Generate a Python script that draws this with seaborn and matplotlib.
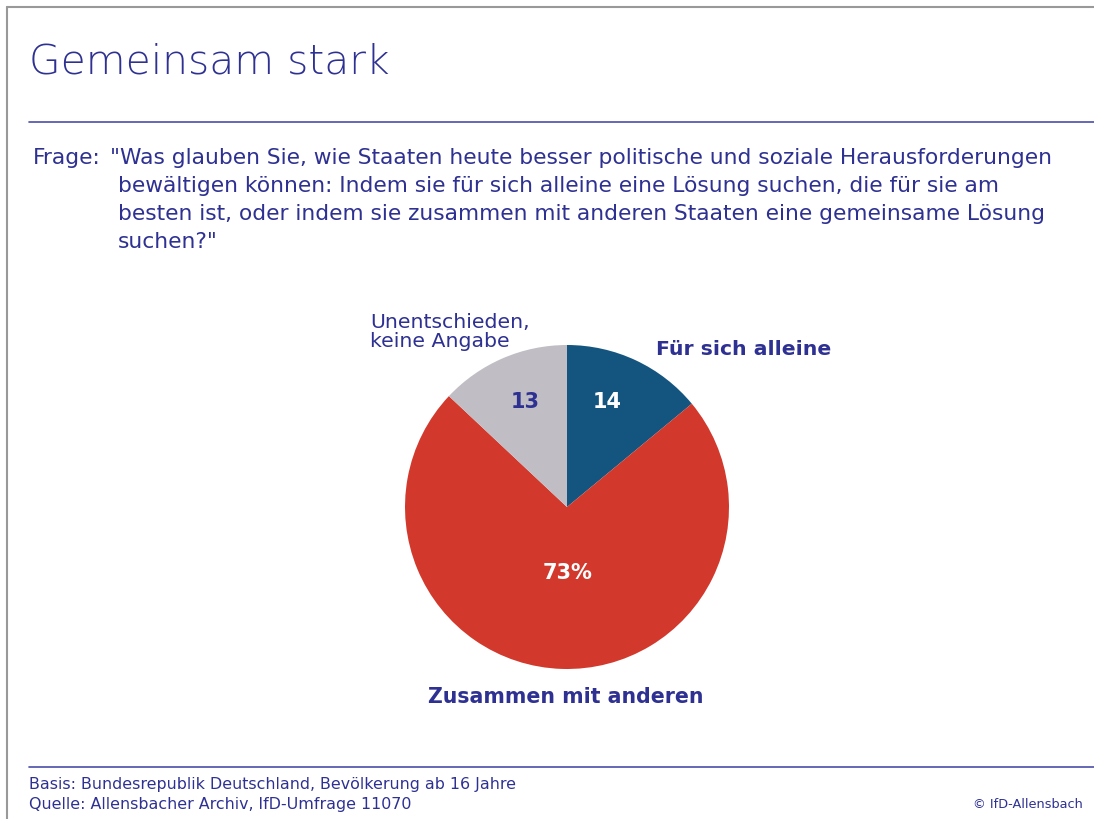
import matplotlib
matplotlib.use("Agg")
import matplotlib.pyplot as plt
import seaborn as sns

categories = ["Für sich alleine", "Zusammen mit anderen", "Unentschieden,\nkeine Angabe"]
values = [14, 73, 13]
value_labels = ["14", "73%", "13"]
colors = ["#14557F", "#D2382B", "#C0BEC4"]
label_colors = ["white", "white", "#2E3192"]

title = "Gemeinsam stark"
question_lines = [
    "\"Was glauben Sie, wie Staaten heute besser politische und soziale Herausforderungen",
    "bewältigen können: Indem sie für sich alleine eine Lösung suchen, die für sie am",
    "besten ist, oder indem sie zusammen mit anderen Staaten eine gemeinsame Lösung",
    "suchen?\"",
]
footer_lines = ["Basis: Bundesrepublik Deutschland, Bevölkerung ab 16 Jahre",
                "Quelle: Allensbacher Archiv, IfD-Umfrage 11070"]
copyright_text = "© IfD-Allensbach"

sns.set_theme(style="white")
plt.rcParams["font.family"] = ["DejaVu Sans"]

TXT = "#2E3192"
LINE = "#4A4FA8"

W, H = 1094, 819
fig = plt.figure(figsize=(W / 100, H / 100), dpi=100)
fig.patch.set_facecolor("white")

def fx(x):
    return x / W

def fy(y):
    return 1 - y / H

# frame (top + left)
fig.add_artist(plt.Line2D([fx(7), 1], [fy(7), fy(7)], color="#999999", lw=1.5))
fig.add_artist(plt.Line2D([fx(7), fx(7)], [fy(7), 0], color="#999999", lw=1.5))

# title
fig.text(fx(29), fy(62), title, fontsize=29.3, color=TXT, va="center", ha="left",
         fontweight="light")
fig.add_artist(plt.Line2D([fx(29), 1], [fy(122), fy(122)], color=LINE, lw=1.2))

# question
QFS = 15.7
fig.text(fx(33), fy(158), "Frage:", fontsize=QFS, color=TXT, va="center", ha="left")
for i, line in enumerate(question_lines):
    x = 110 if i == 0 else 118
    fig.text(fx(x), fy(158 + 28 * i), line, fontsize=QFS, color=TXT, va="center", ha="left")

# pie
cx, cy, r = 567, 507, 162
ax = fig.add_axes([fx(cx - r), fy(cy + r), 2 * r / W, 2 * r / H])
wedges, _ = ax.pie(values, colors=colors, startangle=90, counterclock=False,
                   radius=1, wedgeprops=dict(linewidth=0))
ax.set_xlim(-1, 1)
ax.set_ylim(-1, 1)
ax.set_aspect("auto")
ax.axis("off")

# value labels (positions in figure pixel space)
val_pos = [(607, 402), (568, 573), (525, 402)]
for (px, py), lab, c in zip(val_pos, value_labels, label_colors):
    fig.text(fx(px), fy(py), lab, fontsize=15, fontweight="bold", color=c,
             ha="center", va="center")

# category labels
fig.text(fx(656), fy(349), categories[0], fontsize=14.7, fontweight="bold", color=TXT,
         ha="left", va="center")
fig.text(fx(566), fy(697), categories[1], fontsize=14.8, fontweight="bold", color=TXT,
         ha="center", va="center")
fig.text(fx(370), fy(332), categories[2], fontsize=14.7, color=TXT, ha="left", va="center",
         linespacing=0.95)

# footer
fig.add_artist(plt.Line2D([fx(29), 1], [fy(767), fy(767)], color=LINE, lw=1.2))
fig.text(fx(29), fy(784), footer_lines[0], fontsize=11.4, color=TXT, ha="left", va="center")
fig.text(fx(29), fy(804), footer_lines[1], fontsize=11.4, color=TXT, ha="left", va="center")
fig.text(fx(1083), fy(804), copyright_text, fontsize=9.3, color=TXT, ha="right", va="center")

fig.savefig("out.png", dpi=100, facecolor="white")
